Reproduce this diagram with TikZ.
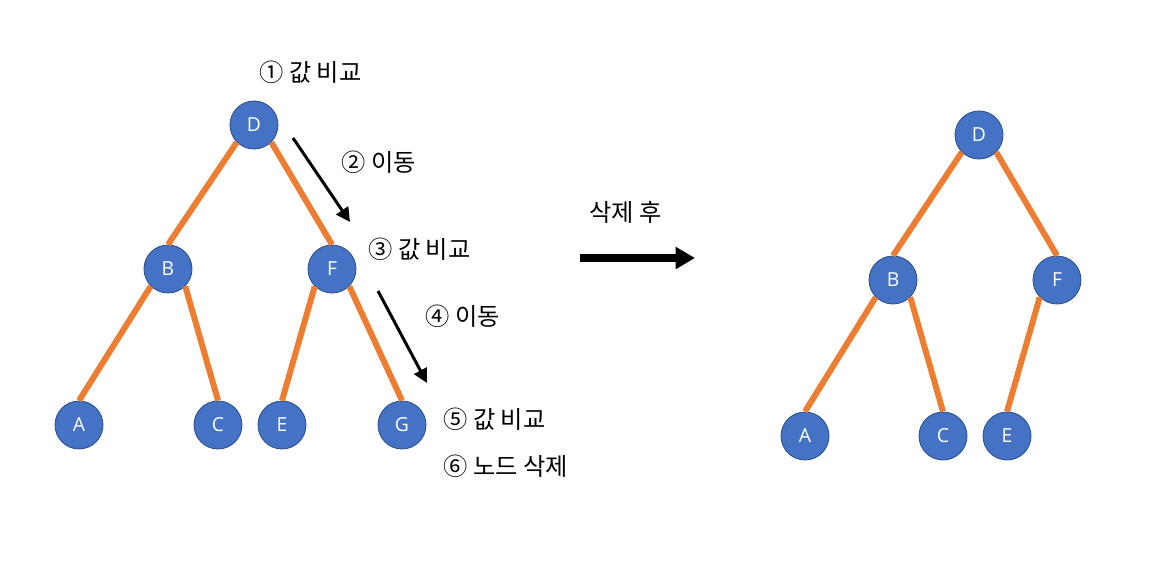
\documentclass[tikz,border=0pt]{standalone}
\usepackage{fontspec}
\setmainfont{Open Sans}
\newfontfamily\kor{Noto Sans CJK KR}
\usetikzlibrary{arrows.meta}
\definecolor{nodeblue}{HTML}{4472C4}
\definecolor{nodeedge}{HTML}{2F528F}
\definecolor{edgeorange}{HTML}{ED7D31}
\tikzset{
  tnode/.style={circle,fill=nodeblue,draw=nodeedge,line width=0.5pt,minimum size=0.96cm,inner sep=0pt,text=white,font=\fontsize{11}{13}\selectfont},
  tedge/.style={draw=edgeorange,line width=3.4pt},
  steparrow/.style={draw=black,line width=1.7pt,-{Triangle[length=8pt,width=8pt]}},
  bigarrow/.style={draw=black,line width=4pt,-{Triangle[length=11pt,width=12pt]}},
  lbl/.style={anchor=west,inner sep=0pt,font=\kor\fontsize{13.8}{16}\selectfont}
}
\begin{document}
\begin{tikzpicture}[x=0.02cm,y=-0.02cm]
\useasboundingbox (0,0) rectangle (1172,573);
% left tree
\node[tnode] (D) at (254,125) {D};
\node[tnode] (B) at (168,269) {B};
\node[tnode] (F) at (332,269) {F};
\node[tnode] (A) at (79,425) {A};
\node[tnode] (C) at (218,425) {C};
\node[tnode] (E) at (282,425) {E};
\node[tnode] (G) at (402,425) {G};
\draw[tedge] (D.south west) -- (B.north);
\draw[tedge] (D.south east) -- (F.north);
\draw[tedge] (B.south west) -- (A.north);
\draw[tedge] (B.south east) -- (C.north);
\draw[tedge] (F.south west) -- (E.north);
\draw[tedge] (F.south east) -- (G.north);
% right tree
\node[tnode] (D2) at (979,135) {D};
\node[tnode] (B2) at (893,280) {B};
\node[tnode] (F2) at (1057,280) {F};
\node[tnode] (A2) at (805,436) {A};
\node[tnode] (C2) at (943,436) {C};
\node[tnode] (E2) at (1007,436) {E};
\draw[tedge] (D2.south west) -- (B2.north);
\draw[tedge] (D2.south east) -- (F2.north);
\draw[tedge] (B2.south west) -- (A2.north);
\draw[tedge] (B2.south east) -- (C2.north);
\draw[tedge] (F2.south west) -- (E2.north);
% step arrows
\coordinate (s1a) at (293,138);
\coordinate (s1b) at (350,222);
\coordinate (s2a) at (378,291);
\coordinate (s2b) at (427,383);
\draw[steparrow] (s1a) -- (s1b);
\draw[steparrow] (s2a) -- (s2b);
\coordinate (ba) at (580,258);
\coordinate (bb) at (695,258);
\draw[bigarrow] (ba) -- (bb);
% labels
\node[lbl] (l1) at (259,72) {① 값 비교};
\node[lbl] (l2) at (341,162) {② 이동};
\node[lbl] (l3) at (368,249) {③ 값 비교};
\node[lbl] (l4) at (425,316) {④ 이동};
\node[lbl] (l5) at (443,419) {⑤ 값 비교};
\node[lbl] (l6) at (443,466) {⑥ 노드 삭제};
\node[lbl] (l7) at (589,212) {삭제 후};
\end{tikzpicture}
\end{document}
